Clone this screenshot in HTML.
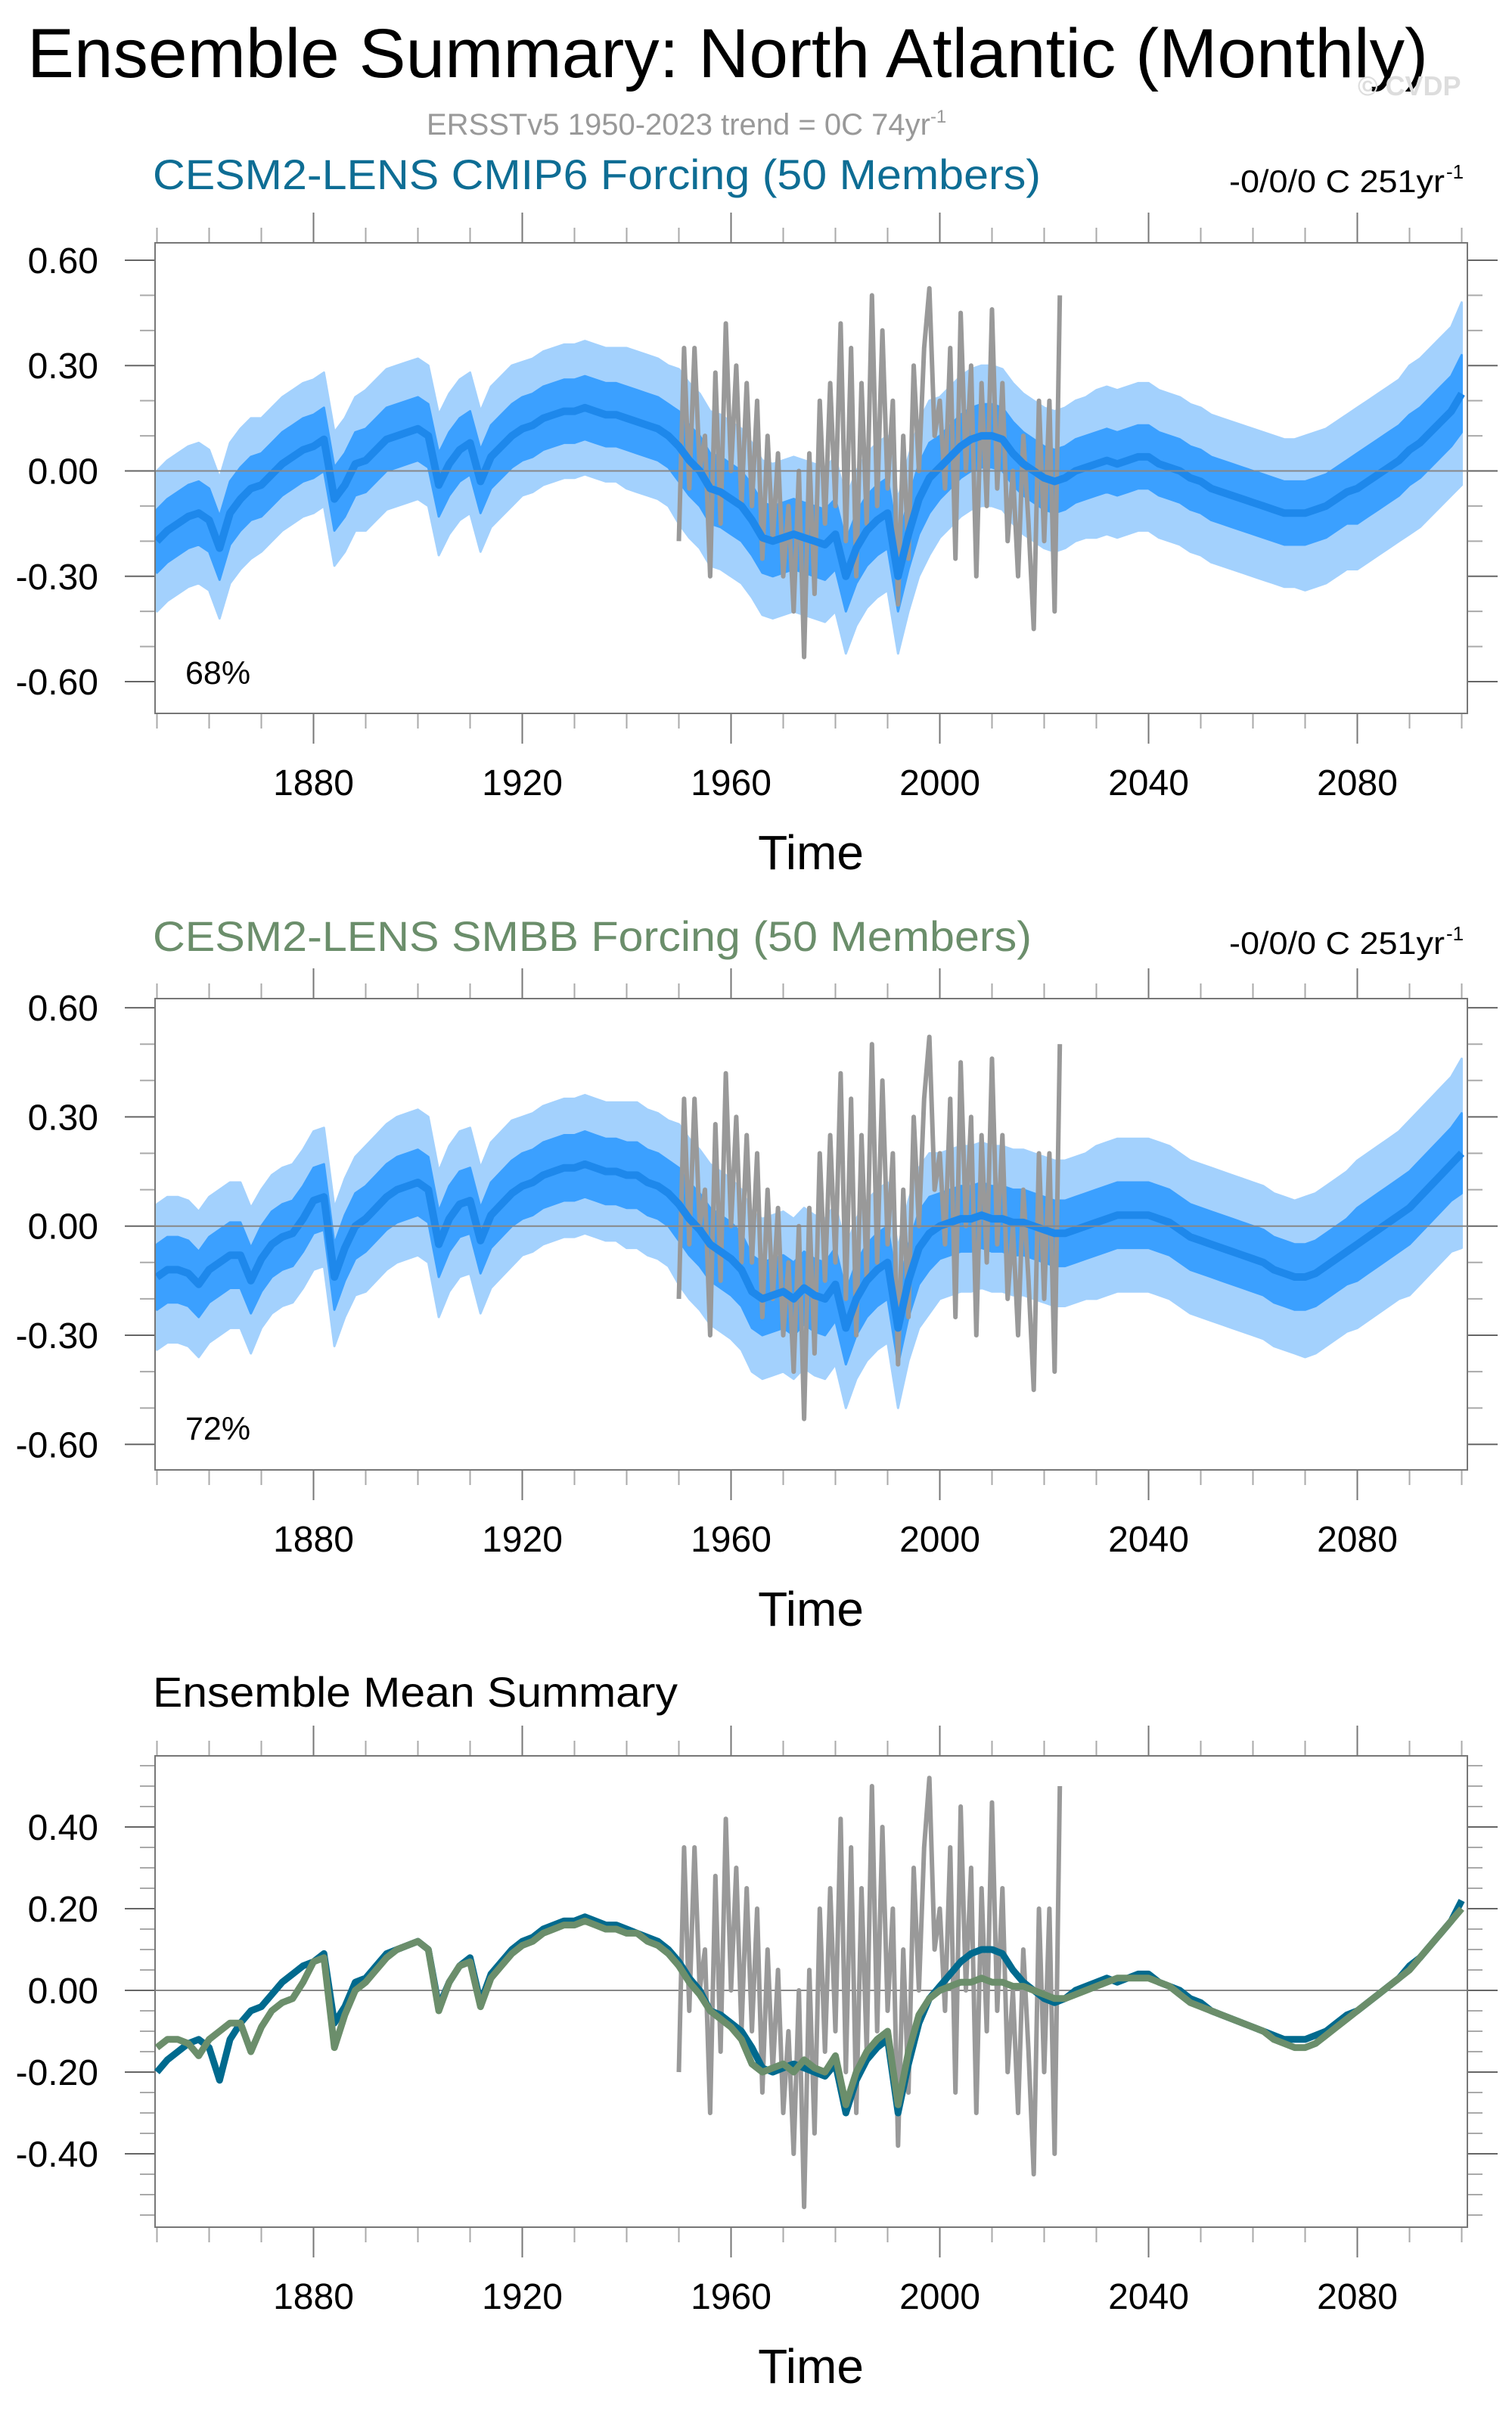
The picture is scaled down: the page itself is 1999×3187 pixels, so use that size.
<!DOCTYPE html>
<html><head><meta charset="utf-8">
<style>
html,body{margin:0;padding:0;background:#fff;}
svg{display:block;font-family:"Liberation Sans",Arial,sans-serif;}
</style></head>
<body>
<svg id="root" width="1999" height="3187" viewBox="0 0 1999 3187" xmlns="http://www.w3.org/2000/svg">
<text x="36" y="102" font-size="92" fill="#000" textLength="1852" lengthAdjust="spacingAndGlyphs">Ensemble Summary: North Atlantic (Monthly)</text>
<text x="1795" y="126" font-size="36" font-weight="bold" fill="#dddddd">© CVDP</text>
<text x="564" y="178" font-size="40" fill="#999999">ERSSTv5 1950-2023 trend = 0C 74yr<tspan dy="-16" font-size="24">-1</tspan></text>
<text x="202" y="250" font-size="56" fill="#0e6d94" textLength="1174" lengthAdjust="spacingAndGlyphs">CESM2-LENS CMIP6 Forcing (50 Members)</text>
<text x="1625" y="254" font-size="42" fill="#000" textLength="285" lengthAdjust="spacingAndGlyphs">-0/0/0 C 251yr</text>
<text x="1912" y="236" font-size="26" fill="#000">-1</text>
<text x="202" y="1257" font-size="56" fill="#6b8e6b" textLength="1162" lengthAdjust="spacingAndGlyphs">CESM2-LENS SMBB Forcing (50 Members)</text>
<text x="1625" y="1261" font-size="42" fill="#000" textLength="285" lengthAdjust="spacingAndGlyphs">-0/0/0 C 251yr</text>
<text x="1912" y="1243" font-size="26" fill="#000">-1</text>
<text x="202" y="2256" font-size="56" fill="#000" textLength="694" lengthAdjust="spacingAndGlyphs">Ensemble Mean Summary</text>
</svg>
<script>
// ---- data ----
const yearStart = 1850, yearStep = 2;
const cmip6Mean = [
-0.20,-0.17,-0.15,-0.13,-0.12,-0.14,-0.22,-0.12,-0.08,-0.05,
-0.04,-0.01,0.02,0.04,0.06,0.07,0.09,-0.08,-0.04,0.02,
0.03,0.06,0.09,0.10,0.11,0.12,0.10,-0.04,0.02,0.06,
0.08,-0.03,0.04,0.07,0.10,0.12,0.13,0.15,0.16,0.17,
0.17,0.18,0.17,0.16,0.16,0.15,0.14,0.13,0.12,0.10,
0.07,0.03,0.00,-0.05,-0.06,-0.08,-0.10,-0.14,-0.19,-0.20,
-0.19,-0.18,-0.19,-0.20,-0.21,-0.18,-0.30,-0.22,-0.17,-0.14,
-0.12,-0.30,-0.18,-0.08,-0.02,0.01,0.04,0.07,0.09,0.10,
0.10,0.09,0.05,0.02,0.00,-0.02,-0.03,-0.02,0.00,0.01,
0.02,0.03,0.02,0.03,0.04,0.04,0.02,0.01,0.00,-0.02,
-0.03,-0.05,-0.06,-0.07,-0.08,-0.09,-0.10,-0.11,-0.12,-0.12,
-0.12,-0.11,-0.10,-0.08,-0.06,-0.05,-0.03,-0.01,0.01,0.03,
0.06,0.08,0.11,0.14,0.17,0.22];
const smbbMean = [
-0.14,-0.12,-0.12,-0.13,-0.16,-0.12,-0.10,-0.08,-0.08,-0.15,
-0.09,-0.05,-0.03,-0.02,0.02,0.07,0.08,-0.14,-0.06,0.00,
0.02,0.05,0.08,0.10,0.11,0.12,0.10,-0.05,0.02,0.06,
0.07,-0.04,0.03,0.06,0.09,0.11,0.12,0.14,0.15,0.16,
0.16,0.17,0.16,0.15,0.15,0.14,0.14,0.12,0.11,0.09,
0.06,0.02,-0.01,-0.05,-0.07,-0.09,-0.12,-0.18,-0.20,-0.19,
-0.18,-0.20,-0.17,-0.19,-0.20,-0.16,-0.28,-0.20,-0.15,-0.12,
-0.10,-0.28,-0.15,-0.06,-0.02,0.00,0.01,0.02,0.02,0.03,
0.02,0.02,0.01,0.01,0.00,-0.01,-0.02,-0.02,-0.01,0.00,
0.01,0.02,0.03,0.03,0.03,0.03,0.02,0.01,-0.01,-0.03,
-0.04,-0.05,-0.06,-0.07,-0.08,-0.09,-0.10,-0.12,-0.13,-0.14,
-0.14,-0.13,-0.11,-0.09,-0.07,-0.05,-0.03,-0.01,0.01,0.03,
0.05,0.08,0.11,0.14,0.17,0.20];
// ensemble spread half-widths per decade (1850..2100)
const innerSpread = [0.09,0.09,0.09,0.09,0.09,0.09,0.09,0.09,0.09,0.09,0.10,0.10,0.10,0.10,0.10,0.09,0.09,0.09,0.09,0.09,0.09,0.09,0.09,0.10,0.10,0.11];
const outerSpread = [0.20,0.20,0.19,0.19,0.20,0.20,0.20,0.19,0.19,0.20,0.22,0.22,0.22,0.22,0.22,0.20,0.20,0.20,0.21,0.21,0.21,0.21,0.22,0.23,0.24,0.26];
const obsStart = 1950;
const obsValues = [
-0.20,0.35,-0.05,0.35,0.00,0.10,-0.30,0.28,-0.15,0.42,
0.00,0.30,-0.10,0.25,-0.10,0.20,-0.25,0.10,-0.20,0.05,
-0.30,-0.10,-0.40,0.00,-0.53,0.05,-0.35,0.20,-0.15,0.25,
-0.10,0.42,-0.20,0.35,-0.30,0.25,-0.15,0.50,-0.10,0.40,
-0.05,0.20,-0.38,0.10,-0.25,0.30,0.00,0.35,0.52,0.10,
0.20,-0.05,0.35,-0.25,0.45,0.00,0.30,-0.30,0.25,-0.10,
0.46,-0.05,0.25,-0.20,0.00,-0.30,0.10,-0.15,-0.45,0.20,
-0.20,0.20,-0.40,0.50];
const xTickYears = [1880,1920,1960,2000,2040,2080];
const p12TickLabels = ["0.60","0.30","0.00","-0.30","-0.60"];
const p12TickValues = [0.6,0.3,0,-0.3,-0.6];
const p3TickLabels = ["0.40","0.20","0.00","-0.20","-0.40"];
const p3TickValues = [0.4,0.2,0,-0.2,-0.4];
const pctLabels = ["68%","72%"];

// ---- drawing ----
const NS="http://www.w3.org/2000/svg";
const root=document.getElementById('root');
function el(tag,attrs,parent){const e=document.createElementNS(NS,tag);for(const k in attrs)e.setAttribute(k,attrs[k]);(parent||root).appendChild(e);return e;}
const X0=205, X1=1940;
function xs(yr){return 207.5+(yr-1850)*6.9;}
function spreadAt(arr,yr){return arr[Math.min(arr.length-1,Math.floor((yr-1850)/10))];}
const years = cmip6Mean.map((_,i)=>yearStart+i*yearStep);
const obsYears = obsValues.map((_,i)=>obsStart+i);

function panel(name,top,bottom,y0,scale,tickVals,tickLabels,minorStep,ymin,ymax){
  const g=el('g',{});
  
  
  const ys=v=>y0-v*scale;
  for(let yr=1850;yr<=2100;yr+=10){
    const major=xTickYears.includes(yr);
    const L=major?40:20;
    const t1=el('line',{x1:xs(yr),x2:xs(yr),y1:top-L,y2:top,stroke:major?'#777':'#aaa','stroke-width':2},g);
    
    
    const t2=el('line',{x1:xs(yr),x2:xs(yr),y1:bottom,y2:bottom+L,stroke:major?'#777':'#aaa','stroke-width':2},g);
    
    
  }
  for(let v=Math.ceil(ymin/minorStep)*minorStep; v<=ymax+1e-9; v+=minorStep){
    const major=tickVals.some(t=>Math.abs(t-v)<1e-6);
    const L=major?40:20;
    const yy=ys(v);
    const a=el('line',{x1:X0-L,x2:X0,y1:yy,y2:yy,stroke:major?'#666':'#aaa','stroke-width':2},g);
    
    
    const b=el('line',{x1:X1,x2:X1+L,y1:yy,y2:yy,stroke:major?'#666':'#aaa','stroke-width':2},g);
    
    
  }
  tickVals.forEach((v,i)=>{
    const t=el('text',{x:130,y:ys(v)+17,'font-size':48,'text-anchor':'end',fill:'#000'},g);
    t.textContent=tickLabels[i];
    
    
  });
  xTickYears.forEach(yr=>{
    const t=el('text',{x:xs(yr),y:bottom+108,'font-size':48,'text-anchor':'middle',fill:'#000'},g);
    t.textContent=String(yr);
    
    
  });
  const tt=el('text',{x:1072,y:bottom+206,'font-size':64,'text-anchor':'middle',fill:'#000'},g);
  tt.textContent='Time';
  
  
  return {g,ys};
}
function band(g,ys,mean,spread,color,name){
  let up='',dn='';
  mean.forEach((v,i)=>{const yr=years[i];const s=spreadAt(spread,yr);up+=(i?'L':'M')+xs(yr).toFixed(1)+','+ys(v+s).toFixed(1);});
  for(let i=mean.length-1;i>=0;i--){const yr=years[i];const s=spreadAt(spread,yr);dn+='L'+xs(yr).toFixed(1)+','+ys(mean[i]-s).toFixed(1);}
  const p=el('path',{d:up+dn+'Z',fill:color,stroke:color,'stroke-width':3,'stroke-linejoin':'round'},g);
  
  
}
function line(g,ys,xsArr,vals,color,w,name){
  const d=vals.map((v,i)=>(i?'L':'M')+xs(xsArr[i]).toFixed(1)+','+ys(v).toFixed(1)).join('');
  const p=el('path',{d,fill:'none',stroke:color,'stroke-width':w,'stroke-linejoin':'round'},g);
  
  
}
function frameAndZero(g,top,bottom,ys){
  const z=el('line',{x1:X0,x2:X1,y1:ys(0),y2:ys(0),stroke:'#888','stroke-width':2},g);
  
  
  const r=el('rect',{x:X0,y:top,width:X1-X0,height:bottom-top,fill:'none',stroke:'#777','stroke-width':2},g);
  
  
}
function spreadPanel(name,top,bottom,y0,scale,ymin,ymax,mean,pct,pctY){
  const P=panel(name,top,bottom,y0,scale,p12TickValues,p12TickLabels,0.1,ymin,ymax);
  const clip=el('clipPath',{id:'c'+name},P.g);
  el('rect',{x:X0,y:top,width:X1-X0,height:bottom-top},clip);
  const inner=el('g',{'clip-path':'url(#c'+name+')'},P.g);
  band(inner,P.ys,mean,outerSpread,'#a3d1fd','ensemble-range-band');
  band(inner,P.ys,mean,innerSpread,'#3ba0ff','ensemble-1sd-band');
  frameAndZero(P.g,top,bottom,P.ys);
  line(inner,P.ys,obsYears,obsValues,'#999999',6,'obs-ersst-line');
  line(inner,P.ys,years,mean,'#1e88eb',10,'ensemble-mean-line');
  const t=el('text',{x:245,y:pctY,'font-size':43,fill:'#000'},P.g);
  t.textContent=pct;
  
  
}
spreadPanel('cmip6-panel',321,943,622.5,464.2,-0.69,0.65,cmip6Mean,pctLabels[0],904);
spreadPanel('smbb-panel',1320,1943,1620.7,481,-0.67,0.62,smbbMean,pctLabels[1],1903);
const P3=panel('ensemble-mean-panel',2321,2944,2631,540,p3TickValues,p3TickLabels,0.05,-0.58,0.57);
frameAndZero(P3.g,2321,2944,P3.ys);
line(P3.g,P3.ys,obsYears,obsValues,'#999999',6,'obs-ersst-line');
line(P3.g,P3.ys,years,cmip6Mean,'#006a8e',9,'cmip6-mean-line');
line(P3.g,P3.ys,years,smbbMean,'#6b8e6b',9,'smbb-mean-line');
</script>
</body></html>
